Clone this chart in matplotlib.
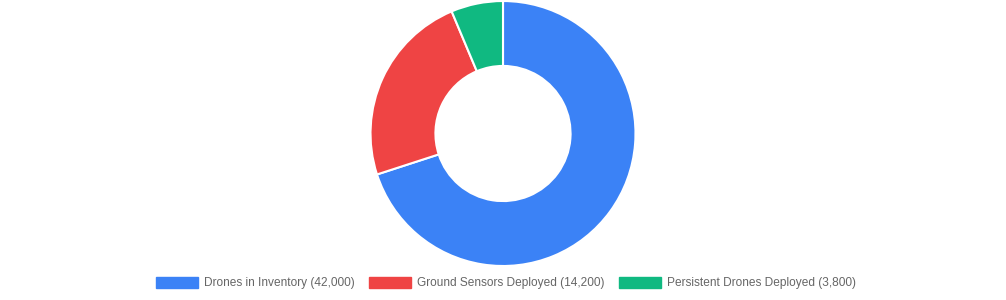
import matplotlib.pyplot as plt
from matplotlib.patches import Patch

# data
labels = ["Drones in Inventory", "Ground Sensors Deployed", "Persistent Drones Deployed"]
values = [42000, 14200, 3800]
colors = ["#3b82f6", "#ef4444", "#10b981"]

plt.rcParams["font.family"] = ["Liberation Sans", "DejaVu Sans"]

fig = plt.figure(figsize=(10.06, 3.0), dpi=100)
ax = fig.add_axes([0.3683, 0.1133, 0.2634, 0.8833])
ax.pie(values, colors=colors, startangle=90, counterclock=False,
       wedgeprops=dict(width=0.49, edgecolor="white", linewidth=1.5))
ax.set_aspect("equal")
ax.set_xlim(-1, 1)
ax.set_ylim(-1, 1)

handles = [Patch(facecolor=c, edgecolor=c) for c in colors]
legend_labels = [f"{l} ({v:,})" for l, v in zip(labels, values)]
fs = 8.55
fig.legend(handles, legend_labels, loc="center", bbox_to_anchor=(0.503, 1 - 283 / 300),
           ncol=3, frameon=False, fontsize=fs, labelcolor="#666666",
           handlelength=30 / fs, handleheight=9 / fs, handletextpad=4.5 / fs,
           columnspacing=10.5 / fs)

fig.savefig("out.png", dpi=100, facecolor="white")
